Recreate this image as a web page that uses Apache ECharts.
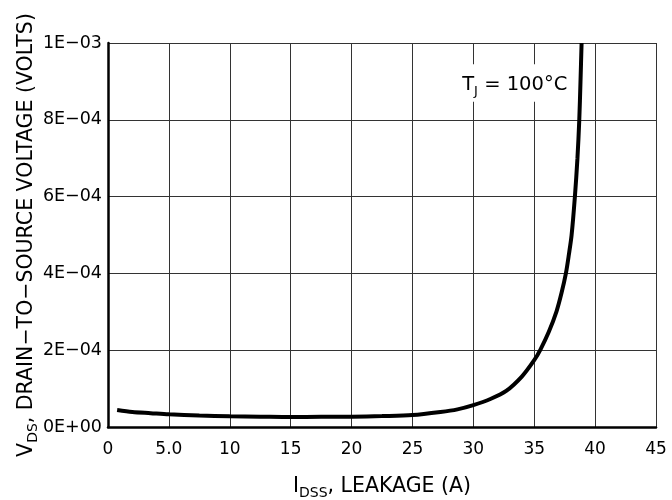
<!DOCTYPE html>
<html>
<head>
<meta charset="utf-8">
<script src="https://cdn.jsdelivr.net/npm/echarts@6/dist/echarts.min.js"></script>
<style>html,body{margin:0;padding:0;background:#fff}#c{width:672px;height:500px}</style>
</head>
<body>
<div id="c"></div>
<script>
// Leakage current (A) vs drain-to-source voltage (V), TJ = 100°C
var leakageA = [0.75, 2, 3.5, 5, 7.5, 10, 12.5, 15, 17.5, 20, 22.5, 25, 27.3, 28.7, 30, 31.4, 32.7, 34.0, 35.0, 35.5, 36.2, 36.84, 37.25, 37.6, 37.85, 38.07, 38.34, 38.55, 38.70, 38.80, 38.89];
var vdsVolts = [4.4e-5, 3.9e-5, 3.6e-5, 3.3e-5, 3.0e-5, 2.8e-5, 2.7e-5, 2.6e-5, 2.65e-5, 2.7e-5, 2.85e-5, 3.1e-5, 3.9e-5, 4.6e-5, 5.7e-5, 7.3e-5, 9.4e-5, 1.32e-4, 1.74e-4, 2.01e-4, 2.48e-4, 3.02e-4, 3.5e-4, 4.0e-4, 4.5e-4, 5.0e-4, 6.0e-4, 7.0e-4, 8.0e-4, 9.0e-4, 1.0e-3];
var xTickLabels = ['0', '5.0', '10', '15', '20', '25', '30', '35', '40', '45'];
var yTickLabels = ['0E+00', '2E\u221204', '4E\u221204', '6E\u221204', '8E\u221204', '1E\u221203'];
var curveLabel = { x: 33.4, y: 8.96e-4, text: '100°C' };

var FONT = 'DejaVu Sans';
var INK = '#000';
var chart = echarts.init(document.getElementById('c'), null, { renderer: 'canvas' });
var pts = leakageA.map(function (x, i) { return [x, vdsVolts[i]]; });

function richSub(main, sub) {
  return {
    m: { fontFamily: FONT, fontSize: main, color: INK, lineHeight: main + 4, verticalAlign: 'bottom' },
    s: { fontFamily: FONT, fontSize: sub, color: INK, lineHeight: sub + 2, verticalAlign: 'bottom', padding: [0, 0, -3, 0] }
  };
}

chart.setOption({
  animation: false,
  backgroundColor: '#fff',
  grid: { left: 108, right: 16, top: 43, bottom: 73, containLabel: false, outerBoundsMode: 'none' },
  xAxis: {
    type: 'value', min: 0, max: 45, interval: 5,
    axisLine: { show: true, onZero: false, lineStyle: { color: '#000', width: 2.5 } },
    axisTick: { show: false },
    splitLine: { show: true, lineStyle: { color: '#333', width: 1 } },
    axisLabel: {
      margin: 14, color: INK, fontFamily: FONT, fontSize: 17,
      formatter: function (v) { return xTickLabels[Math.round(v / 5)]; }
    },
    name: '{m|I}{s|DSS}{m|, LEAKAGE (A)}',
    nameLocation: 'middle', nameGap: 46,
    nameTextStyle: { fontFamily: FONT, color: INK, rich: richSub(20.5, 14) }
  },
  yAxis: {
    type: 'value', min: 0, max: 1e-3, interval: 2e-4,
    axisLine: { show: true, lineStyle: { color: '#000', width: 2.5 } },
    axisTick: { show: false },
    splitLine: { show: true, lineStyle: { color: '#333', width: 1 } },
    axisLabel: {
      margin: 6, color: INK, fontFamily: FONT, fontSize: 17.5,
      formatter: function (v) { return yTickLabels[Math.round(v / 2e-4)]; }
    },
    name: '{m|V}{s|DS}{m|, DRAIN\u2212TO\u2212SOURCE VOLTAGE (VOLTS)}',
    nameLocation: 'middle', nameGap: 71, nameRotate: 90, nameMoveOverlap: false,
    nameTextStyle: { fontFamily: FONT, color: INK, rich: richSub(20.5, 14) }
  },
  series: [{
    type: 'line',
    data: pts,
    smooth: 0.3,
    showSymbol: false,
    lineStyle: { color: '#000', width: 4 },
    z: 5,
    markPoint: {
      symbol: 'rect', symbolSize: 0, silent: true,
      data: [{
        coord: [curveLabel.x, curveLabel.y],
        label: {
          show: true, position: 'inside',
          formatter: '{m|T}{s|J}{m| = ' + curveLabel.text + '}',
          backgroundColor: '#fff', padding: [7, 3, 7, 3],
          rich: richSub(19.5, 13)
        }
      }]
    }
  }]
});
</script>
</body>
</html>
